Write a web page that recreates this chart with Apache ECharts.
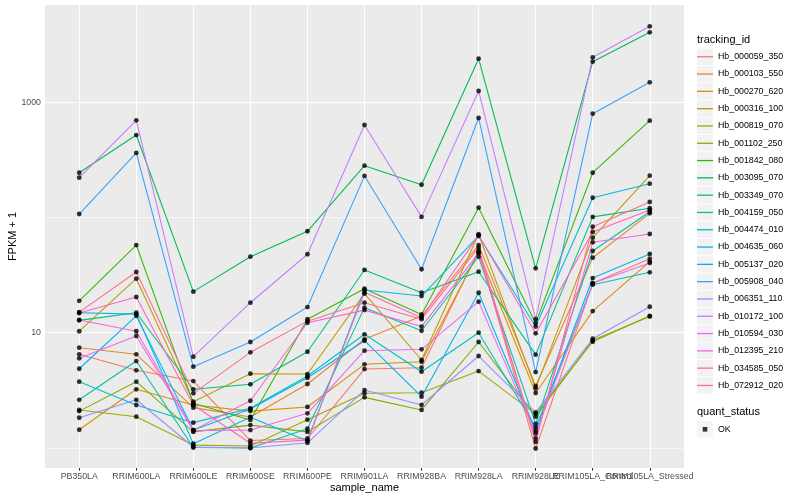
<!DOCTYPE html>
<html><head><meta charset="utf-8">
<script src="https://cdn.jsdelivr.net/npm/echarts@6/dist/echarts.min.js"></script>
<style>html,body{margin:0;padding:0;background:#fff}#c{width:800px;height:500px}</style>
</head><body><div id="c"></div>
<script>
const categories = ['PB350LA','RRIM600LA','RRIM600LE','RRIM600SE','RRIM600PE','RRIM901LA','RRIM928BA','RRIM928LA','RRIM928LE','RRIM105LA_Control','RRIM105LA_Stressed'];
const yTickValues = [10, 1000];
const yMinorValues = [1, 100];
const trackingIds = ['Hb_000059_350','Hb_000103_550','Hb_000270_620','Hb_000316_100','Hb_000819_070','Hb_001102_250','Hb_001842_080','Hb_003095_070','Hb_003349_070','Hb_004159_050','Hb_004474_010','Hb_004635_060','Hb_005137_020','Hb_005908_040','Hb_006351_110','Hb_010172_100','Hb_010594_030','Hb_012395_210','Hb_034585_050','Hb_072912_020'];
const quantStatus = ['OK'];

const Hb_000059_350 = [6.50, 4.72, 3.81, 1.16, 1.21, 4.84, 4.97, 51.4, 0.99, 26.8, 43.8];
const Hb_000103_550 = [7.41, 6.50, 2.24, 1.86, 3.59, 8.77, 13.96, 57.6, 3.45, 44.7, 108.5];
const Hb_000270_620 = [1.44, 3.23, 2.36, 2.09, 2.27, 5.32, 5.60, 49.8, 3.00, 15.4, 41.3];
const Hb_000316_100 = [10.3, 29.4, 2.52, 4.41, 4.38, 21.8, 5.80, 71.4, 3.29, 66.7, 230];
const Hb_000819_070 = [2.14, 1.87, 1.06, 1.04, 1.76, 2.98, 3.02, 4.65, 1.97, 8.35, 14.0];
const Hb_001102_250 = [2.09, 3.76, 1.38, 1.58, 1.38, 2.75, 2.14, 8.31, 1.87, 8.59, 13.8];
const Hb_001842_080 = [18.9, 57.6, 2.44, 1.75, 13.1, 24.1, 14.4, 121.4, 12.1, 244, 690];
const Hb_003095_070 = [244, 518, 22.7, 45.6, 75.8, 281, 192, 2379, 36.2, 2240, 4030];
const Hb_003349_070 = [12.8, 14.9, 3.23, 3.57, 6.84, 35.0, 22.2, 33.8, 6.45, 101, 120];
const Hb_004159_050 = [2.62, 5.68, 1.01, 1.00, 1.47, 16.5, 10.4, 45.6, 1.62, 51.1, 112];
const Hb_004474_010 = [3.76, 2.36, 1.66, 2.21, 4.21, 9.69, 4.59, 10.0, 1.51, 26.1, 33.4];
const Hb_004635_060 = [14.9, 14.5, 1.09, 1.85, 1.15, 23.5, 20.8, 69.0, 11.3, 148, 196];
const Hb_005137_020 = [4.87, 14.0, 1.43, 2.18, 4.07, 8.52, 2.79, 22.2, 1.41, 29.8, 48.2];
const Hb_005908_040 = [107, 362, 5.07, 8.31, 16.7, 229, 35.5, 728, 4.56, 793, 1485];
const Hb_006351_110 = [1.83, 2.62, 1.02, 1.00, 1.11, 3.18, 2.36, 6.28, 2.04, 8.87, 16.8];
const Hb_010172_100 = [221, 695, 6.19, 18.2, 47.9, 633, 101, 1248, 13.1, 2447, 4543];
const Hb_010594_030 = [6.00, 9.36, 1.42, 1.43, 2.00, 6.98, 7.18, 18.6, 1.34, 26.8, 40.2];
const Hb_012395_210 = [12.9, 10.3, 1.43, 2.57, 12.2, 15.7, 11.3, 48.8, 1.21, 60.8, 71.8];
const Hb_034585_050 = [14.8, 20.4, 2.36, 1.10, 1.17, 22.4, 13.5, 69.9, 9.88, 74.7, 116];
const Hb_072912_020 = [15.1, 33.6, 2.98, 6.76, 12.6, 18.2, 13.1, 54.6, 1.13, 83.1, 136];

const seriesValues = [Hb_000059_350, Hb_000103_550, Hb_000270_620, Hb_000316_100, Hb_000819_070, Hb_001102_250, Hb_001842_080, Hb_003095_070, Hb_003349_070, Hb_004159_050, Hb_004474_010, Hb_004635_060, Hb_005137_020, Hb_005908_040, Hb_006351_110, Hb_010172_100, Hb_010594_030, Hb_012395_210, Hb_034585_050, Hb_072912_020];

const palette = ['#F8766D','#EA8331','#D89000','#C09B00','#A3A500','#7CAE00','#39B600','#00BB4E','#00BF7D','#00C1A3','#00BFC4','#00BAE0','#00B0F6','#35A2FF','#9590FF','#C77CFF','#E76BF3','#FA62DB','#FF62BC','#FF6C91'];
const FONT = '"Liberation Sans", Arial, Helvetica, sans-serif';

const chart = echarts.init(document.getElementById('c'), null, {renderer: 'canvas'});

const lineSeries = trackingIds.map((id, k) => ({
  name: id, type: 'line', z: 2, symbol: 'none', silent: true, animation: false,
  lineStyle: {color: palette[k], width: 1.07}, itemStyle: {color: palette[k]},
  emphasis: {disabled: true},
  data: seriesValues[k].map((v, i) => [i, v])
}));

const pointData = [];
seriesValues.forEach(arr => arr.forEach((v, i) => pointData.push([i, v])));

const major = {color: '#FFFFFF', width: 1.07, type: 'solid', opacity: 1};
const minor = {color: '#FFFFFF', width: 0.55, type: 'solid', opacity: 1};

const gridSeries = {
  name: '__grid', type: 'line', z: 1, symbol: 'none', silent: true, animation: false,
  data: [[0, 10]], lineStyle: {opacity: 0},
  markLine: {
    z: 1, silent: true, symbol: ['none', 'none'], animation: false, label: {show: false},
    emphasis: {disabled: true},
    data: [
      ...categories.map((c, i) => ({xAxis: i, lineStyle: major})),
      ...yTickValues.map(v => ({yAxis: v, lineStyle: major})),
      ...yMinorValues.map(v => ({yAxis: v, lineStyle: minor}))
    ]
  }
};

const pointSeries = {
  name: quantStatus[0], type: 'scatter', z: 3, silent: true, animation: false,
  symbol: 'circle', symbolSize: 4.8, itemStyle: {color: '#000000'},
  data: pointData
};

const legendText = {color: '#000', fontSize: 8.8, fontFamily: FONT, lineHeight: 12};
const catIdx = categories.map((c, i) => i);
const axisLabelBase = {formatter: v => categories[Math.round(v)] || '', color: '#4D4D4D', fontSize: 8.8, fontFamily: FONT, margin: 4, hideOverlap: false, showMinLabel: true, showMaxLabel: true};

const option = {
  backgroundColor: '#FFFFFF',
  animation: false,
  title: [
    {text: 'tracking_id', left: 697, top: 34.5, padding: 0, textStyle: {fontFamily: FONT, fontSize: 11, fontWeight: 'normal', color: '#000'}},
    {text: 'quant_status', left: 697, top: 406, padding: 0, textStyle: {fontFamily: FONT, fontSize: 11, fontWeight: 'normal', color: '#000'}}
  ],
  grid: {left: 45, right: 116, top: 5, bottom: 32, show: true, backgroundColor: '#EBEBEB', borderWidth: 0, containLabel: false, outerBoundsMode: 'none'},
  xAxis: [{
    type: 'value', min: -0.6, max: 10.6, position: 'bottom',
    axisLine: {show: false}, splitLine: {show: false},
    axisTick: {show: true, length: 2.75, lineStyle: {color: '#333333', width: 1.07}, customValues: catIdx},
    axisLabel: Object.assign({customValues: catIdx.filter(i => i % 2 === 0)}, axisLabelBase),
    name: 'sample_name', nameLocation: 'middle', nameGap: 14.5, nameMoveOverlap: false,
    nameTextStyle: {color: '#000', fontSize: 11, fontFamily: FONT}
  }, {
    type: 'value', min: -0.6, max: 10.6, position: 'bottom', offset: 0,
    axisLine: {show: false}, splitLine: {show: false}, axisTick: {show: false},
    axisLabel: Object.assign({customValues: catIdx.filter(i => i % 2 === 1)}, axisLabelBase)
  }],
  yAxis: {
    type: 'log', logBase: 10, min: 0.671, max: 6950,
    axisLine: {show: false}, splitLine: {show: false}, minorSplitLine: {show: false},
    axisTick: {show: true, length: 2.75, lineStyle: {color: '#333333', width: 1.07}, customValues: yTickValues},
    axisLabel: {customValues: yTickValues, formatter: v => String(Math.round(v)), color: '#4D4D4D', fontSize: 8.8, fontFamily: FONT, margin: 4, showMinLabel: true, showMaxLabel: true},
    name: 'FPKM + 1', nameLocation: 'middle', nameGap: 26.5, nameRotate: 90, nameMoveOverlap: false,
    nameTextStyle: {color: '#000', fontSize: 11, fontFamily: FONT}
  },
  legend: [
    {data: trackingIds, orient: 'vertical', left: 697, top: 48.5, padding: 0, itemWidth: 16, itemHeight: 16.5, itemGap: 0.8,
     icon: 'rect', itemStyle: {color: '#F2F2F2', borderWidth: 0}, selectedMode: false, z: 3,
     textStyle: Object.assign({}, legendText, {color: 'rgba(0,0,0,0)'})},
    {data: trackingIds, orient: 'vertical', left: 697, top: 50.75, padding: 0, itemWidth: 16, itemHeight: 1.3, itemGap: 5.3,
     icon: 'rect', selectedMode: false, z: 4,
     textStyle: legendText},
    {data: quantStatus, orient: 'vertical', left: 697, top: 421, padding: 0, itemWidth: 16, itemHeight: 16.5,
     icon: 'rect', itemStyle: {color: '#F2F2F2', borderWidth: 0}, selectedMode: false, z: 3,
     textStyle: legendText},
    {data: quantStatus, orient: 'vertical', left: 702.7, top: 423.3, padding: 0, itemWidth: 4.6, itemHeight: 4.6,
     icon: 'rect', itemStyle: {color: '#000'}, selectedMode: false, z: 4, formatter: () => ' ',
     textStyle: Object.assign({}, legendText, {color: 'rgba(0,0,0,0)'})}
  ],
  series: [gridSeries, ...lineSeries, pointSeries]
};
chart.setOption(option);
</script>
</body></html>
